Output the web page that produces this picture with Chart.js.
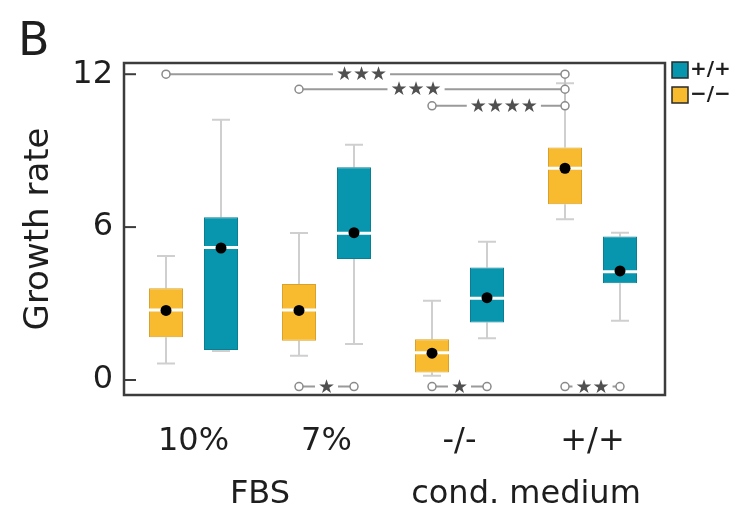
<!DOCTYPE html>
<html><head><meta charset="utf-8">
<script src="https://cdn.jsdelivr.net/npm/chart.js@4/dist/chart.umd.min.js"></script>
<style>html,body{margin:0;padding:0;background:#fff}#wrap{width:739px;height:513px;position:relative}</style>
</head><body><div id="wrap"><canvas id="c" width="739" height="513"></canvas></div>
<script>
// ---- data ----
const groups = ['10%', '7%', '-/-', '+/+'];
const groupPositions = [1, 2, 3, 4];
const superGroups = ['FBS', 'cond. medium'];
const superGroupSpans = [[1, 2], [3, 4]];
const yTicks = [0, 6, 12];
const seriesLabels = ['\u2212/\u2212', '+/+'];

// -/- series (yellow)
const koLow    = [0.65, 0.95, 0.17, 6.31];
const koQ1     = [1.68, 1.54, 0.29, 6.90];
const koMedian = [2.75, 2.75, 1.07, 8.31];
const koQ3     = [3.60, 3.77, 1.60, 9.12];
const koHigh   = [4.87, 5.77, 3.11, 11.65];
const koMean   = [2.73, 2.73, 1.05, 8.31];
// +/+ series (teal)
const wtLow    = [1.14, 1.41, 1.64, 2.32];
const wtQ1     = [1.18, 4.75, 2.26, 3.80];
const wtMedian = [5.20, 5.76, 3.21, 4.25];
const wtQ3     = [6.39, 8.35, 4.41, 5.63];
const wtHigh   = [10.21, 9.23, 5.43, 5.78];
const wtMean   = [5.18, 5.78, 3.23, 4.28];

// significance brackets, endpoints as [groupIndex, seriesIndex]
const topBracketFrom   = [[0, 0], [1, 0], [2, 0]];
const topBracketTo     = [[3, 0], [3, 0], [3, 0]];
const topBracketLevel  = [12.0, 11.41, 10.76];
const topBracketStars  = ['***', '***', '****'];
const topBracketLabelAt = [0.49, 0.44, 0.54];
const bottomBracketGroups = [1, 2, 3];
const bottomBracketLevel  = -0.26;
const bottomBracketStars  = ['*', '*', '**'];

// ---- styles ----
const YELLOW = '#F8BB2F', YELLOW_EDGE = '#D9A12A';
const TEAL = '#0796AE', TEAL_EDGE = '#0A7E92';
const FONT = 'DejaVu Sans';
const INK = '#1e1e1e';

function star(s) { return s.replace(/\*/g, '\u2605'); }

const extras = {
  id: 'extras',
  beforeDatasetsDraw(chart) {
    const {ctx, scales: {y}} = chart;
    ctx.save();
    ctx.strokeStyle = '#cfcfcf';
    ctx.lineWidth = 2;
    chart.data.datasets.forEach((ds, di) => {
      chart.getDatasetMeta(di).data.forEach((bar, i) => {
        const x = bar.x;
        const pLo = y.getPixelForValue(ds.low[i]), pHi = y.getPixelForValue(ds.high[i]);
        const pQ1 = y.getPixelForValue(ds.data[i].y[0]), pQ3 = y.getPixelForValue(ds.data[i].y[1]);
        ctx.beginPath();
        ctx.moveTo(x, pQ3); ctx.lineTo(x, pHi);
        ctx.moveTo(x - 9, pHi); ctx.lineTo(x + 9, pHi);
        ctx.moveTo(x, pQ1); ctx.lineTo(x, pLo);
        ctx.moveTo(x - 9, pLo); ctx.lineTo(x + 9, pLo);
        ctx.stroke();
      });
    });
    ctx.restore();
  },
  afterDatasetsDraw(chart) {
    const {ctx, chartArea: a, scales: {x: xs, y}} = chart;
    ctx.save();
    // medians and means
    chart.data.datasets.forEach((ds, di) => {
      chart.getDatasetMeta(di).data.forEach((bar, i) => {
        const pm = y.getPixelForValue(ds.median[i]);
        ctx.strokeStyle = '#ffffff'; ctx.lineWidth = 3;
        ctx.beginPath(); ctx.moveTo(bar.x - bar.width / 2, pm); ctx.lineTo(bar.x + bar.width / 2, pm); ctx.stroke();
        ctx.fillStyle = '#000';
        ctx.beginPath(); ctx.arc(bar.x, y.getPixelForValue(ds.mean[i]), 5.5, 0, Math.PI * 2); ctx.fill();
      });
    });
    const px = (g, s) => chart.getDatasetMeta(s).data[g].x;
    function bracket(x1, x2, yy, label, frac) {
      ctx.font = '19px "' + FONT + '"';
      const t = star(label);
      const w = ctx.measureText(t).width;
      const lx = x1 + (x2 - x1) * frac;
      ctx.strokeStyle = '#9a9a9a'; ctx.lineWidth = 2;
      ctx.beginPath();
      ctx.moveTo(x1, yy); ctx.lineTo(lx - w / 2 - 3, yy);
      ctx.moveTo(lx + w / 2 + 3, yy); ctx.lineTo(x2, yy);
      ctx.stroke();
      ctx.fillStyle = '#505050';
      ctx.textAlign = 'center'; ctx.textBaseline = 'middle';
      ctx.fillText(t, lx, yy + 1);
      [x1, x2].forEach(cx => {
        ctx.beginPath(); ctx.arc(cx, yy, 4, 0, Math.PI * 2);
        ctx.fillStyle = '#fff'; ctx.fill();
        ctx.strokeStyle = '#8a8a8a'; ctx.lineWidth = 1.5; ctx.stroke();
      });
    }
    // vertical connector on shared endpoint
    const ends = {};
    topBracketTo.forEach((e, k) => {
      const key = e.join(',');
      (ends[key] = ends[key] || []).push(topBracketLevel[k]);
    });
    Object.keys(ends).forEach(key => {
      const [g, s] = key.split(',').map(Number);
      const lv = ends[key];
      if (lv.length > 1) {
        ctx.strokeStyle = '#c4c4c4'; ctx.lineWidth = 2;
        ctx.beginPath();
        ctx.moveTo(px(g, s), y.getPixelForValue(Math.max(...lv)));
        ctx.lineTo(px(g, s), y.getPixelForValue(Math.min(...lv)));
        ctx.stroke();
      }
    });
    topBracketFrom.forEach((f, k) => {
      const t = topBracketTo[k];
      bracket(px(f[0], f[1]), px(t[0], t[1]), y.getPixelForValue(topBracketLevel[k]), topBracketStars[k], topBracketLabelAt[k]);
    });
    bottomBracketGroups.forEach((g, k) => {
      bracket(px(g, 0), px(g, 1), y.getPixelForValue(bottomBracketLevel), bottomBracketStars[k], 0.5);
    });
    // frame
    ctx.strokeStyle = '#3c3c3c'; ctx.lineWidth = 2.5;
    ctx.strokeRect(a.left, a.top, a.right - a.left, a.bottom - a.top);
    // inward y tick marks
    ctx.lineWidth = 2;
    yTicks.forEach(v => {
      const p = y.getPixelForValue(v);
      ctx.beginPath(); ctx.moveTo(a.left, p); ctx.lineTo(a.left + 12, p); ctx.stroke();
    });
    ctx.restore();
  },
  afterDraw(chart) {
    const {ctx, chartArea: a, scales: {x: xs}} = chart;
    ctx.save();
    // super group labels
    ctx.fillStyle = INK;
    ctx.font = '32px "' + FONT + '"';
    ctx.textAlign = 'center'; ctx.textBaseline = 'middle';
    superGroups.forEach((name, k) => {
      const [g1, g2] = superGroupSpans[k];
      const cx = (xs.getPixelForValue(g1) + xs.getPixelForValue(g2)) / 2;
      ctx.fillText(name, cx, 495);
    });
    // panel letter
    ctx.font = '46px "' + FONT + '"';
    ctx.textAlign = 'left'; ctx.textBaseline = 'alphabetic';
    ctx.fillText('B', 18, 55);
    // legend (reversed: +/+ first)
    const order = [1, 0];
    order.forEach((di, k) => {
      const ds = chart.data.datasets[di];
      const top = a.top - 1 + k * 25;
      ctx.fillStyle = ds.backgroundColor;
      ctx.fillRect(a.right + 7, top, 16, 16);
      ctx.strokeStyle = '#2a2a2a'; ctx.lineWidth = 1.5;
      ctx.strokeRect(a.right + 7, top, 16, 16);
      ctx.fillStyle = INK;
      ctx.font = 'bold 20px "' + FONT + '"';
      ctx.textBaseline = 'middle';
      ctx.fillText(ds.label, a.right + 25, top + 8);
    });
    ctx.restore();
  }
};

new Chart(document.getElementById('c'), {
  type: 'bar',
  data: {
    datasets: [
      {
        label: seriesLabels[0],
        data: groupPositions.map((g, i) => ({x: g, y: [koQ1[i], koQ3[i]]})),
        low: koLow, high: koHigh, median: koMedian, mean: koMean,
        backgroundColor: YELLOW, borderColor: YELLOW_EDGE, borderWidth: 1, borderSkipped: false
      },
      {
        label: seriesLabels[1],
        data: groupPositions.map((g, i) => ({x: g, y: [wtQ1[i], wtQ3[i]]})),
        low: wtLow, high: wtHigh, median: wtMedian, mean: wtMean,
        backgroundColor: TEAL, borderColor: TEAL_EDGE, borderWidth: 1, borderSkipped: false
      }
    ]
  },
  options: {
    responsive: false,
    animation: false,
    devicePixelRatio: 1,
    categoryPercentage: 0.827,
    barPercentage: 0.618,
    layout: {padding: {top: 63, right: 74, left: 0, bottom: 0}},
    plugins: {legend: {display: false}, tooltip: {enabled: false}},
    scales: {
      x: {
        type: 'linear',
        offset: false,
        min: 0.4774, max: 4.5451,
        afterBuildTicks: s => { s.ticks = groupPositions.map(v => ({value: v})); },
        afterFit: s => { s.height = 118; },
        grid: {display: false, drawTicks: false, offset: false},
        border: {display: false},
        ticks: {
          color: INK, padding: 27,
          font: {family: FONT, size: 32},
          callback: v => groups[groupPositions.indexOf(v)]
        }
      },
      y: {
        min: -0.589, max: 12.44,
        afterBuildTicks: s => { s.ticks = yTicks.map(v => ({value: v})); },
        afterFit: s => { s.width = 124; },
        grid: {display: false, drawTicks: false},
        border: {display: false},
        ticks: {color: INK, padding: 11, font: {family: FONT, size: 32}},
        title: {display: true, text: 'Growth rate', color: INK, font: {family: FONT, size: 34}, padding: {top: 19, bottom: 0}}
      }
    }
  },
  plugins: [extras]
});
</script></body></html>
